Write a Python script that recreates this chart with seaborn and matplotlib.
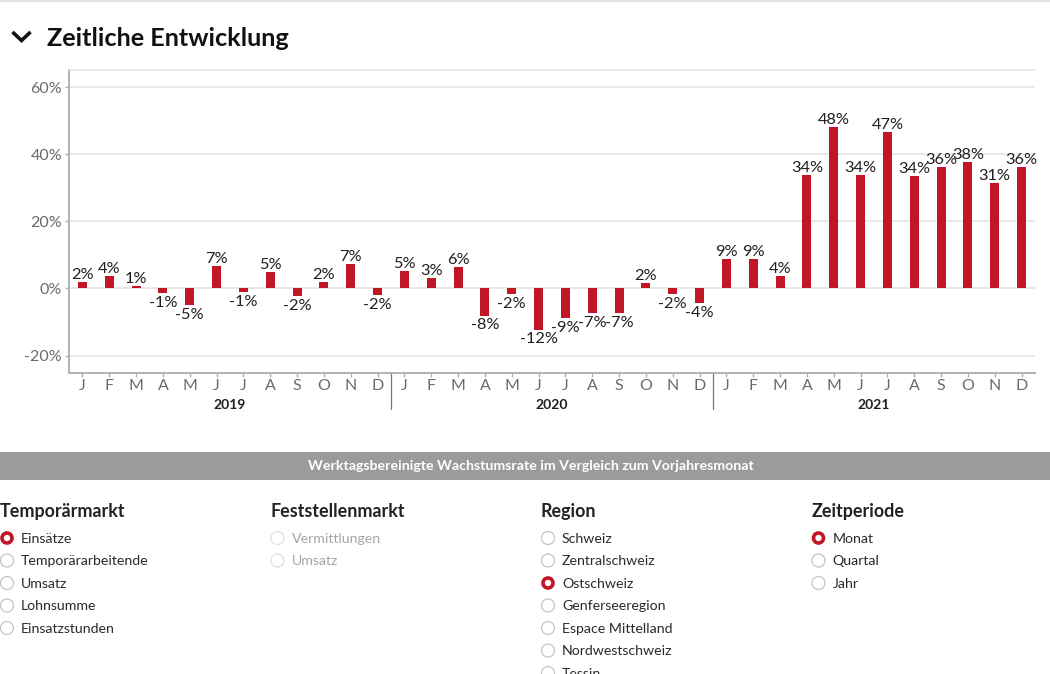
import pandas as pd
import seaborn as sns
import matplotlib.pyplot as plt
from matplotlib.patches import Circle, Rectangle
from matplotlib.transforms import blended_transform_factory

###############################################################################
# Data
###############################################################################
years = ["2019", "2020", "2021"]
month_letters = ["J", "F", "M", "A", "M", "J", "J", "A", "S", "O", "N", "D"]
growth_2019 = [1.8, 3.6, 0.6, -1.3, -5.0, 6.6, -1.1, 4.9, -2.4, 1.9, 7.4, -1.9]
growth_2020 = [5.2, 3.1, 6.3, -8.1, -1.7, -12.3, -8.8, -7.4, -7.4, 1.7, -1.6, -4.4]
growth_2021 = [8.7, 8.9, 3.8, 33.9, 48.2, 33.9, 46.6, 33.6, 36.3, 37.7, 31.3, 36.2]
y_ticks = [-20, 0, 20, 40, 60]

title = "Zeitliche Entwicklung"
band_text = "Werktagsbereinigte Wachstumsrate im Vergleich zum Vorjahresmonat"
temp_options = ["Einsätze", "Temporärarbeitende", "Umsatz", "Lohnsumme", "Einsatzstunden"]
fest_options = ["Vermittlungen", "Umsatz"]
region_options = ["Schweiz", "Zentralschweiz", "Ostschweiz", "Genferseeregion",
                  "Espace Mittelland", "Nordwestschweiz", "Tessin"]
period_options = ["Monat", "Quartal", "Jahr"]

RED = "#c21627"
TEXT = "#1f1f1f"
TICK = "#6b6b6b"
GRID = "#e2e2e2"
AXIS = "#b2b2b2"

###############################################################################
# Chart
###############################################################################
sns.set_theme(style="white")
plt.rcParams["font.family"] = ["Lato", "DejaVu Sans"]

W, H = 1050, 674
fig = plt.figure(figsize=(W / 100, H / 100), dpi=100)
ax = fig.add_axes([69 / W, 1 - 373 / H, (1035 - 69) / W, (373 - 70) / H])

df = pd.DataFrame({
    "month": [f"{y}-{i}" for y in years for i in range(12)],
    "growth": growth_2019 + growth_2020 + growth_2021,
})
sns.barplot(data=df, x="month", y="growth", color=RED, saturation=1, width=0.33,
            linewidth=0, ax=ax, zorder=3)

ax.set_xlim(-0.5, 35.5)
ax.set_ylim(-25.2, 65.1)
ax.set_xlabel("")
ax.set_ylabel("")

ax.set_yticks(y_ticks)
ax.set_yticklabels([f"{v}%" for v in y_ticks], fontsize=11.5, color=TICK)
ax.set_xticks(range(36))
ax.set_xticklabels(month_letters * 3, fontsize=11.5, color=TICK)
ax.tick_params(axis="y", length=3, width=1, color=AXIS, pad=2, left=True)
ax.tick_params(axis="x", length=3, width=1, color=AXIS, pad=1, bottom=True)
ax.grid(axis="y", color=GRID, linewidth=1.1, zorder=0)
ax.set_axisbelow(True)

ax.spines["right"].set_visible(False)
ax.spines["top"].set_color(GRID)
ax.spines["top"].set_linewidth(1.1)
ax.spines["left"].set_color(AXIS)
ax.spines["left"].set_linewidth(1.4)
ax.spines["bottom"].set_color(AXIS)
ax.spines["bottom"].set_linewidth(1.4)

for i, v in enumerate(df["growth"]):
    ax.annotate(f"{round(v)}%", (i, v), xytext=(0, 0 if v >= 0 else -2), textcoords="offset points",
                ha="center", va="bottom" if v >= 0 else "top", fontsize=11.8, color=TEXT, zorder=5)

# year labels and separators below the axis
trans = blended_transform_factory(ax.transData, ax.transAxes)
for k, year in enumerate(years):
    ax.text(12 * k + 5.5, -32.5 / 303, year, transform=trans, ha="center", va="center",
            fontsize=10, fontweight="bold", color=TEXT)
    if k > 0:
        ax.plot([12 * k - 0.5] * 2, [0, -36 / 303], transform=trans, color="#777777",
                linewidth=0.9, clip_on=False)

###############################################################################
# Surrounding page elements, in pixel coordinates
###############################################################################
page = fig.add_axes([0, 0, 1, 1], zorder=-1)
overlay = fig.add_axes([0, 0, 1, 1], zorder=5)
overlay.patch.set_alpha(0)
for a in (page, overlay):
    a.set_xlim(0, W)
    a.set_ylim(H, 0)
    a.axis("off")

page.add_patch(Rectangle((0, 0), W, 1.5, color="#e3e3e3", lw=0))
overlay.plot([12.5, 21.5, 30.5], [32, 40.5, 32], color="#111111", linewidth=2.6,
             solid_capstyle="butt", solid_joinstyle="miter")
overlay.text(47, 38, title, fontsize=18.2, fontweight="bold", color="#111111", va="center")

page.add_patch(Rectangle((0, 452), W, 28, color="#9b9b9b", lw=0))
overlay.text(530.5, 466, band_text, fontsize=10.2, fontweight="bold", color="white",
             ha="center", va="center")


def radio_group(x, heading, options, selected=None, disabled=False):
    overlay.text(x, 511.5, heading, fontsize=12.9, fontweight="bold", color="#222222", va="center")
    for i, option in enumerate(options):
        yy = 538 + i * 22.5
        cx = x + 7
        if option == selected:
            overlay.add_patch(Circle((cx, yy), 5, facecolor="white", edgecolor=RED, linewidth=2.6))
        else:
            edge = "#e0e0e0" if disabled else "#c4c4c4"
            overlay.add_patch(Circle((cx, yy), 6.5, facecolor="white", edgecolor=edge, linewidth=0.9))
        overlay.text(x + 21, yy + 0.8, option, fontsize=10.2, va="center",
                     color="#a6a6a6" if disabled else "#2a2a2a")


radio_group(0, "Temporärmarkt", temp_options, selected="Einsätze")
radio_group(270.5, "Feststellenmarkt", fest_options, disabled=True)
radio_group(541, "Region", region_options, selected="Ostschweiz")
radio_group(811.5, "Zeitperiode", period_options, selected="Monat")

fig.savefig("out.png", dpi=100)
